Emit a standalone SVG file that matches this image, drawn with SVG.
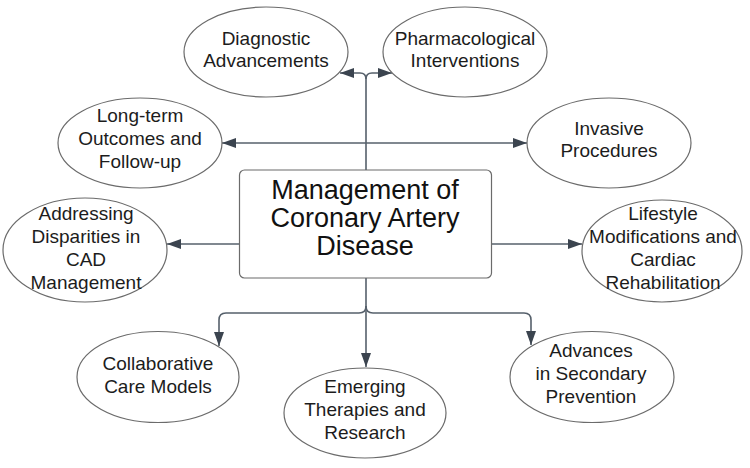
<svg xmlns="http://www.w3.org/2000/svg" width="750" height="468" viewBox="0 0 750 468">
<defs>
<style>
.node ellipse{fill:#fff;stroke:#6b6b6b;stroke-width:1.2}
.node rect{fill:#fff;stroke:#6b6b6b;stroke-width:1.2}
.lbl{font-family:"Liberation Sans",Arial,sans-serif;font-size:19px;fill:#1c1c1c;text-anchor:middle}
.title{font-family:"Liberation Sans",Arial,sans-serif;font-size:27px;fill:#111;text-anchor:middle}
#connectors path{fill:none;stroke:#56606b;stroke-width:1.6}
</style>
<marker id="ah" markerUnits="userSpaceOnUse" markerWidth="14" markerHeight="10" refX="14" refY="5" orient="auto">
<path d="M0,0 L14,5 L0,10 z" fill="#3b444f"/>
</marker>
</defs>
<rect width="750" height="468" fill="#fff"/>
<g id="connectors">
<path d="M366,170 V79 Q366,73 360,73 H340" marker-end="url(#ah)"/>
<path d="M366,79 Q366,73 372,73 H392" marker-end="url(#ah)"/>
<path d="M366,143 H222" marker-end="url(#ah)"/>
<path d="M366,143 H527" marker-end="url(#ah)"/>
<path d="M239.5,244 H167" marker-end="url(#ah)"/>
<path d="M491.7,244 H582" marker-end="url(#ah)"/>
<path d="M366,278 V367" marker-end="url(#ah)"/>
<path d="M366,306 Q366,313 359,313 H226 Q219,313 219,320 V346" marker-end="url(#ah)"/>
<path d="M366,306 Q366,313 373,313 H524 Q531,313 531,320 V345" marker-end="url(#ah)"/>
</g>
<g id="center" class="node">
<rect x="239.5" y="170" width="252" height="108" rx="5"/>
<text class="title" x="365" y="199">Management of</text>
<text class="title" x="365" y="227">Coronary Artery</text>
<text class="title" x="365" y="254.5">Disease</text>
</g>
<g id="diagnostic" class="node">
<ellipse cx="266" cy="52" rx="82" ry="45"/>
<text class="lbl" x="266" y="45">Diagnostic</text>
<text class="lbl" x="266" y="67">Advancements</text>
</g>
<g id="pharmacological" class="node">
<ellipse cx="465" cy="52" rx="82" ry="45"/>
<text class="lbl" x="465" y="45">Pharmacological</text>
<text class="lbl" x="465" y="67">Interventions</text>
</g>
<g id="longterm" class="node">
<ellipse cx="140" cy="143" rx="82" ry="45"/>
<text class="lbl" x="140" y="122">Long-term</text>
<text class="lbl" x="140" y="145">Outcomes and</text>
<text class="lbl" x="140" y="168">Follow-up</text>
</g>
<g id="invasive" class="node">
<ellipse cx="609" cy="143" rx="82" ry="45"/>
<text class="lbl" x="609" y="135">Invasive</text>
<text class="lbl" x="609" y="157">Procedures</text>
</g>
<g id="disparities" class="node">
<ellipse cx="85" cy="250" rx="82" ry="52"/>
<text class="lbl" x="86" y="220">Addressing</text>
<text class="lbl" x="86" y="243">Disparities in</text>
<text class="lbl" x="86" y="266">CAD</text>
<text class="lbl" x="86" y="289">Management</text>
</g>
<g id="lifestyle" class="node">
<ellipse cx="662" cy="251" rx="80" ry="51"/>
<text class="lbl" x="663" y="220">Lifestyle</text>
<text class="lbl" x="663" y="243">Modifications and</text>
<text class="lbl" x="663" y="266">Cardiac</text>
<text class="lbl" x="663" y="289">Rehabilitation</text>
</g>
<g id="collaborative" class="node">
<ellipse cx="158" cy="377" rx="81" ry="45.5"/>
<text class="lbl" x="158" y="370">Collaborative</text>
<text class="lbl" x="158" y="393">Care Models</text>
</g>
<g id="emerging" class="node">
<ellipse cx="365" cy="413" rx="81" ry="45"/>
<text class="lbl" x="365" y="393">Emerging</text>
<text class="lbl" x="365" y="416">Therapies and</text>
<text class="lbl" x="365" y="439">Research</text>
</g>
<g id="advances" class="node">
<ellipse cx="592" cy="377" rx="82" ry="45.5"/>
<text class="lbl" x="591" y="357">Advances</text>
<text class="lbl" x="591" y="380">in Secondary</text>
<text class="lbl" x="591" y="403">Prevention</text>
</g>
</svg>
